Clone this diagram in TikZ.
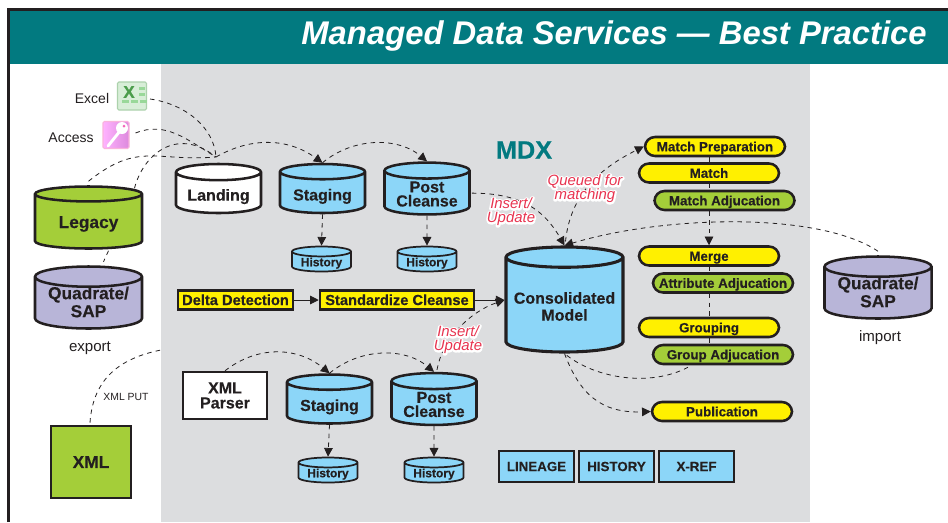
\documentclass[tikz,border=0pt]{standalone}
\usepackage{fontspec}
\setmainfont[BoldFeatures={FakeBold=0.35}]{Liberation Sans}
\usetikzlibrary{arrows.meta,shapes.geometric}
\definecolor{bandteal}{RGB}{2,122,128}
\definecolor{panelgray}{RGB}{220,221,223}
\definecolor{dbblue}{RGB}{140,214,248}
\definecolor{dbgreen}{RGB}{164,206,57}
\definecolor{dbpurple}{RGB}{184,181,216}
\definecolor{stepyellow}{RGB}{255,240,0}
\definecolor{inkdark}{RGB}{35,31,32}
\definecolor{notered}{RGB}{232,52,80}
\newcommand{\halotext}[1]{\rlap{\special{pdf:code q 2 Tr 2.6 w 1 1 1 RG 1 j}\textcolor{white}{#1}\special{pdf:code Q}}#1}
\tikzset{
  textdrop/.style={text height=#1,text depth=-#1},
  dbbig/.style={cylinder,shape border rotate=90,aspect=0.26,draw=inkdark,line width=1.9pt,inner sep=0pt,
    minimum width=85*0.75pt,minimum height=49*0.75pt,anchor=shape center,align=center,text=inkdark,
    textdrop=11.25pt,font=\fontsize{12pt}{10.5pt}\selectfont\bfseries},
  dbtall/.style={dbbig,aspect=0.25,minimum width=107*0.75pt,minimum height=62*0.75pt,
    textdrop=9.3pt,font=\fontsize{13pt}{13.5pt}\selectfont\bfseries},
  dbsmall/.style={dbbig,line width=1.3pt,aspect=0.24,minimum width=59*0.75pt,minimum height=25*0.75pt,
    textdrop=6.5pt,font=\fontsize{9pt}{9pt}\selectfont\bfseries},
  stepbox/.style={draw=inkdark,line width=1.9pt,fill=stepyellow,inner sep=0pt,minimum height=19*0.75pt,
    text=inkdark,text height=7.6pt,text depth=0pt,font=\fontsize{11pt}{11pt}\selectfont\bfseries},
  pillbox/.style={stepbox,rounded corners=7.5pt,minimum width=140*0.75pt,text height=7.2pt,
    font=\fontsize{10pt}{10pt}\selectfont\bfseries},
  greenpill/.style={pillbox,fill=dbgreen},
  sidebox/.style={draw=inkdark,line width=1.7pt,fill=dbblue,inner sep=0pt,minimum width=74.5*0.75pt,
    minimum height=31*0.75pt,text=inkdark,font=\fontsize{10pt}{11pt}\selectfont\bfseries},
  plainlabel/.style={text=inkdark,inner sep=0pt,font=\fontsize{10.5pt}{11pt}\selectfont},
  notelabel/.style={text=notered,inner sep=0pt,align=center,font=\fontsize{11.2pt}{10.5pt}\selectfont\itshape},
  dashflow/.style={draw=inkdark,line width=0.6pt,dash pattern=on 3.4pt off 3.2pt},
  solidflow/.style={draw=inkdark,line width=0.7pt},
  >={Triangle[length=6.5pt,width=6.5pt]}
}
\begin{document}
\begin{tikzpicture}[x=0.75pt,y=-0.75pt]
\useasboundingbox (0,0) rectangle (948,522);
\fill [white] (0,0) rectangle (948,522);
\fill [panelgray] (161,64) rectangle (810,522);
\fill [bandteal] (9,10) rectangle (948,64);
\draw [inkdark,line width=2pt] (8.5,522) -- (8.5,9.5) -- (948,9.5);
\node (title) [anchor=east,text=white,inner sep=0pt,font=\fontsize{24.6pt}{26pt}\selectfont\bfseries\itshape] at (927,36.5) {Managed Data Services --- Best Practice};
\node (mdx) [text=bandteal,inner sep=0pt,font=\fontsize{19pt}{20pt}\selectfont\bfseries] at (524,150) {MDX};

\coordinate (landhub) at (216,157);
\coordinate (xmlfree) at (161,350);
\node (excellabel) [plainlabel] at (92,98) {Excel};
\node (excel) [draw=green!30!gray!50,line width=0.8pt,fill=green!40!gray!22,rounded corners=1pt,minimum width=29*0.75pt,minimum height=28*0.75pt,inner sep=0pt] at (132,96) {};
\node (excelx) [inner sep=0pt,text=green!45!black!70,font=\fontsize{13pt}{13pt}\selectfont\bfseries] at (129,92) {X};
\foreach \cellx in {122,131,140}
  \fill [green!45!gray!55] (\cellx,103) rectangle +(7,-3.5);
\foreach \celly in {90,96}
  \fill [green!45!gray!55] (139,\celly) rectangle +(6,-3.5);
\node (accesslabel) [plainlabel] at (71,138) {Access};
\node (access) [draw=magenta!30,line width=0.8pt,left color=magenta!30!white,right color=magenta!55!gray!60,rounded corners=1pt,minimum width=26*0.75pt,minimum height=27*0.75pt,inner sep=0pt] at (116,135) {};
\draw [white,line width=2.2pt,line cap=round] (108,146) -- (120,131);
\fill [white] (122,128) circle (6);
\fill [magenta!60!white] (124,126) circle (1.5);

\node (landing) [dbbig,fill=white] at (218.5,188.5) {Landing};
\node (staging) [dbbig,fill=dbblue] at (322.5,188.5) {Staging};
\node (cleanse) [dbbig,fill=dbblue,textdrop=20pt] at (427,188.5) {Post\\Cleanse};
\node (stagehist) [dbsmall,fill=dbblue] at (321.5,259) {History};
\node (cleansehist) [dbsmall,fill=dbblue] at (427,259) {History};
\node (legacy) [dbtall,fill=dbgreen] at (88.5,217.5) {Legacy};
\node (quadleft) [dbtall,fill=dbpurple,textdrop=21pt] at (88.5,297.5) {Quadrate/\\SAP};
\node (quadright) [dbtall,fill=dbpurple,textdrop=21pt] at (878,287.5) {Quadrate/\\SAP};
\node (exportlabel) [plainlabel,font=\fontsize{11.3pt}{11pt}\selectfont] at (90,348) {export};
\node (importlabel) [plainlabel,font=\fontsize{11.3pt}{11pt}\selectfont] at (880,338) {import};
\node (xmlbox) [draw=inkdark,line width=1.9pt,fill=dbgreen,minimum width=80*0.75pt,minimum height=72*0.75pt,text=inkdark,inner sep=0pt,font=\fontsize{13pt}{12pt}\selectfont\bfseries] at (91,462) {XML};
\node (xmlput) [plainlabel,font=\fontsize{7.8pt}{8pt}\selectfont] at (126,397) {XML PUT};
\node (consolidated) [dbbig,aspect=0.2,minimum width=117*0.75pt,minimum height=105*0.75pt,fill=dbblue,line width=2.3pt,textdrop=23pt,font=\fontsize{12pt}{12.75pt}\selectfont\bfseries] at (564.5,299.5) {Consolidated\\Model};
\node (delta) [stepbox,minimum width=115*0.75pt] at (235.5,300) {Delta Detection};
\node (standard) [stepbox,minimum width=154*0.75pt] at (397,300) {Standardize Cleanse};
\node (xmlparser) [draw=inkdark,line width=1.9pt,fill=white,minimum width=84*0.75pt,minimum height=47*0.75pt,inner sep=0pt,align=center,text=inkdark,font=\fontsize{12pt}{11.25pt}\selectfont\bfseries] at (225,395.5) {XML\\Parser};
\node (stagelow) [dbbig,fill=dbblue] at (329.5,399) {Staging};
\node (cleanselow) [dbbig,fill=dbblue,textdrop=20pt] at (434,399) {Post\\Cleanse};
\node (histlow) [dbsmall,fill=dbblue] at (328,470) {History};
\node (histclean) [dbsmall,fill=dbblue] at (434,470) {History};
\node (matchprep) [pillbox] at (715,146.5) {Match Preparation};
\node (matchstep) [pillbox] at (709,173) {Match};
\node (matchadj) [greenpill] at (724.5,200.5) {Match Adjucation};
\node (mergestep) [pillbox] at (709,256) {Merge};
\node (attradj) [greenpill] at (723,283) {Attribute Adjucation};
\node (grouping) [pillbox] at (709,327.5) {Grouping};
\node (groupadj) [greenpill] at (723,354.5) {Group Adjucation};
\node (publication) [pillbox] at (722,411.5) {Publication};
\node (lineage) [sidebox] at (536.5,466.5) {LINEAGE};
\node (history) [sidebox] at (616.5,466.5) {HISTORY};
\node (xref) [sidebox] at (696.5,466.5) {X-REF};

\draw [dashflow] (excel.east) ++(3,3) .. controls +(35,5) and +(-2,-30) .. (landhub);
\draw [dashflow] (access.east) ++(6,-2) .. controls +(30,-12) and +(-30,-18) .. (landhub);
\draw [dashflow] (legacy.north) ++(46,3) .. controls +(8,-32) and +(-40,-32) .. (landhub);
\draw [dashflow] (legacy.north) ++(0,-4) .. controls +(50,-40) and +(-60,5) .. (landhub);
\draw [dashflow,->] (landhub) .. controls +(35,-20) and +(-35,-25) .. (staging.north);
\draw [dashflow,->] (staging.north) .. controls +(30,-25) and +(-30,-25) .. (cleanse.north);
\draw [dashflow,->] (staging.south) -- (stagehist.north);
\draw [dashflow,->] (cleanse.south) -- (cleansehist.north);
\draw [dashflow] (legacy.south) ++(20,1) -- +(-5,11);
\draw [dashflow] (xmlbox.north) ++(-1,-2) .. controls +(3,-45) and +(-40,8) .. (xmlfree);
\draw [dashflow,->] (cleanse.east) ++(1,0) .. controls +(50,0) and +(-20,-35) .. (consolidated.north);
\draw [dashflow,->] (consolidated.north) ++(1,-4) .. controls +(5,-50) and +(-40,20) .. (matchprep.west);
\draw [dashflow,->] (quadright.north) ++(0,-4) .. controls +(-60,-40) and +(100,-30) .. (consolidated.north);
\draw [dashflow] (matchstep.north |- matchprep.south) -- (matchstep.north);
\draw [dashflow] (matchstep.south) -- (matchadj.north -| matchstep.south);
\draw [dashflow,->] (matchadj.south -| mergestep.north) -- (mergestep.north);
\draw [dashflow] (mergestep.south) -- (attradj.north -| mergestep.south);
\draw [dashflow] (attradj.south -| grouping.north) -- (grouping.north);
\draw [dashflow] (grouping.south) -- (groupadj.north -| grouping.south);
\draw [dashflow] (groupadj.south) ++(-35,2) .. controls +(-38,20) and +(30,25) .. (consolidated.south);
\draw [dashflow,->] (consolidated.south) .. controls +(15,40) and +(-50,2) .. (publication.west);
\draw [solidflow,->] (delta.east) -- (standard.west);
\draw [solidflow,->] (standard.east) -- (consolidated.west |- standard.east);
\draw [dashflow,->] (cleanselow.north) ++(3,-2) .. controls +(5,-30) and +(-35,12) .. (consolidated.west |- standard.east);
\draw [dashflow,->] (xmlparser.north) .. controls +(35,-27) and +(-30,-25) .. (stagelow.north);
\draw [dashflow,->] (stagelow.north) .. controls +(30,-25) and +(-30,-25) .. (cleanselow.north);
\draw [dashflow,->] (stagelow.south) -- (histlow.north);
\draw [dashflow,->] (cleanselow.south) -- (histclean.north);

\node (noteone) [notelabel] at (511,212) {\halotext{Insert/}\\\halotext{Update}};
\node (notetwo) [notelabel] at (458,340) {\halotext{Insert/}\\\halotext{Update}};
\node (notequeue) [notelabel] at (585,189) {\halotext{Queued for}\\\halotext{matching}};
\end{tikzpicture}
\end{document}
